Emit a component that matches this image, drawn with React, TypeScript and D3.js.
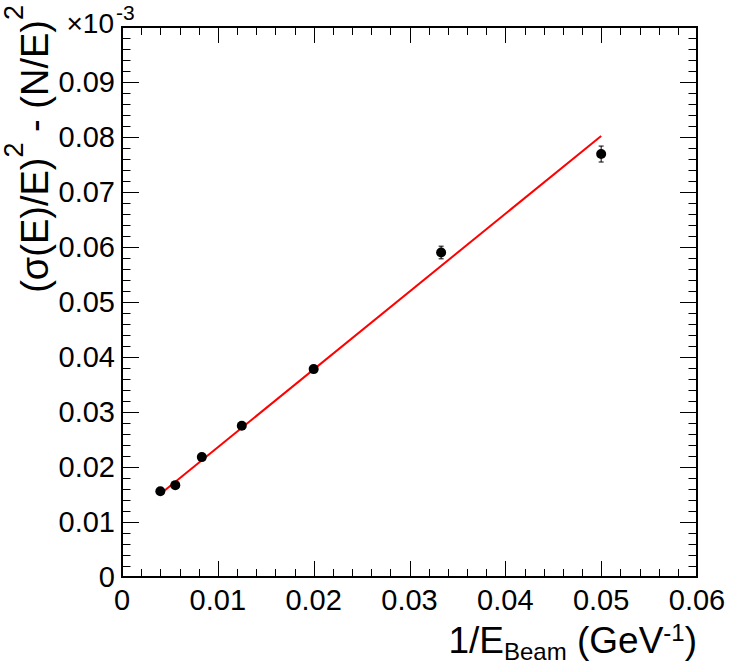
import React from "react";
import * as d3 from "d3";

const xVals = [0.004, 0.00556, 0.00833, 0.0125, 0.02, 0.0333, 0.05];
const yVals = [0.0156, 0.0167, 0.0218, 0.0275, 0.0378, 0.059, 0.0769];
const yErrs = [0.0003, 0.0003, 0.0004, 0.0004, 0.0005, 0.00115, 0.00145];
const fitIntercept = 0.00944;
const fitSlope = 1.415;
const fitRange = [0.004, 0.05];
const xTickLabels = ["0", "0.01", "0.02", "0.03", "0.04", "0.05", "0.06"];
const yTickLabels = ["0", "0.01", "0.02", "0.03", "0.04", "0.05", "0.06", "0.07", "0.08", "0.09"];

const W = 730, H = 668;
const L = 122, R = 697, T = 27, B = 577;
const FONT = "'Liberation Sans', Arial, Helvetica, sans-serif";

export default function App() {
  const x = d3.scaleLinear().domain([0, 0.06]).range([L, R]);
  const y = d3.scaleLinear().domain([0, 0.1]).range([B, T]);
  const xMinor = d3.range(0, 31).map((i) => i * 0.002);
  const yMinor = d3.range(0, 51).map((i) => i * 0.002);
  const xMajor = xTickLabels.map((t) => +t);
  const fitLine = d3
    .line<number>()
    .x((d) => x(d))
    .y((d) => y(fitIntercept + fitSlope * d));

  return (
    <div style={{ position: "absolute", left: 0, top: 0 }}>
      <svg width={W} height={H} style={{ display: "block", background: "#fff" }} fontFamily={FONT}>
        <rect width={W} height={H} fill="#fff" />
        {/* ticks */}
        <g stroke="#000" strokeWidth={1}>
          {xMinor.map((v, i) => {
            const major = i % 5 === 0;
            const len = major ? 16 : 8;
            const px = Math.round(x(v)) + 0.5;
            return (
              <g key={"xm" + i}>
                <line x1={px} x2={px} y1={B} y2={B - len} />
                <line x1={px} x2={px} y1={T} y2={T + len} />
              </g>
            );
          })}
          {yMinor.map((v, i) => {
            const major = i % 5 === 0;
            const len = major ? 17 : 8.5;
            const py = Math.round(y(v)) + 0.5;
            return (
              <g key={"ym" + i}>
                <line x1={L} x2={L + len} y1={py} y2={py} />
                <line x1={R} x2={R - len} y1={py} y2={py} />
              </g>
            );
          })}
        </g>
        <rect x={L} y={T} width={R - L} height={B - T} fill="none" stroke="#000" strokeWidth={2} />
        {/* tick labels */}
        <g fontSize={29} fill="#000">
          {xMajor.map((v, i) => (
            <text key={"xl" + i} x={x(v)} y={610} textAnchor="middle">
              {xTickLabels[i]}
            </text>
          ))}
          {yTickLabels.map((t, i) => (
            <text key={"yl" + i} x={115} y={y(+t) + 10} textAnchor="end">
              {t}
            </text>
          ))}
        </g>
        {/* exponent */}
        <text x={114} y={33} fontSize={28} textAnchor="end">×10</text>
        <text x={116} y={20} fontSize={21}>-3</text>
        {/* fit */}
        <path d={fitLine(fitRange) || ""} fill="none" stroke="#ff0000" strokeWidth={2} />
        {/* data */}
        <g>
          {xVals.map((v, i) => {
            const cx = x(v);
            const y1 = y(yVals[i] + yErrs[i]);
            const y2 = y(yVals[i] - yErrs[i]);
            return (
              <g key={"p" + i}>
                <line x1={cx} x2={cx} y1={y1} y2={y2} stroke="#000" strokeWidth={1} />
                <line x1={cx - 2.5} x2={cx + 2.5} y1={y1} y2={y1} stroke="#000" strokeWidth={1} />
                <line x1={cx - 2.5} x2={cx + 2.5} y1={y2} y2={y2} stroke="#000" strokeWidth={1} />
                <circle cx={cx} cy={y(yVals[i])} r={5} fill="#000" />
              </g>
            );
          })}
        </g>
        {/* x title */}
        <text x={697} y={653} fontSize={37} textAnchor="end">
          <tspan>1/E</tspan>
          <tspan fontSize={24} dy={7}>Beam</tspan>
          <tspan dy={-7}> (GeV</tspan>
          <tspan fontSize={24} dy={-12}>-1</tspan>
          <tspan dy={12}>)</tspan>
        </text>
        {/* y title */}
        <text transform="translate(48,5) rotate(-90)" fontSize={38} textAnchor="end">
          <tspan>(σ(E)/E)</tspan>
          <tspan fontSize={27} dy={-25}>2</tspan>
          <tspan dy={25}> - (N/E)</tspan>
          <tspan fontSize={27} dy={-25}>2</tspan>
        </text>
      </svg>
    </div>
  );
}
